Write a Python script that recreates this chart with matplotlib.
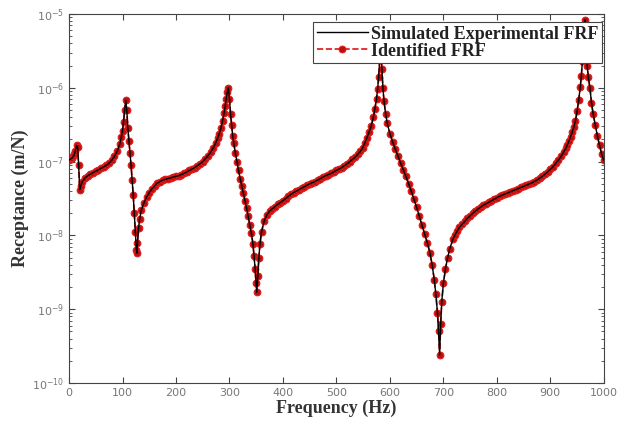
import numpy as np
import matplotlib
matplotlib.use('Agg')
import matplotlib.pyplot as plt

# frequency points (Hz) and log10 of receptance (m/N)
freq = [0, 2, 4, 6, 8, 10, 12, 14, 16, 18, 20, 22, 25,
        30, 35, 40, 45, 50, 55, 60, 65, 70, 75, 80, 85, 90, 95, 98,
        100, 102, 104, 106, 108, 110, 112, 114, 116, 118, 120, 122, 124, 126, 127,
        128, 130, 132, 135, 140, 145, 150, 155, 160, 165, 170, 175, 180, 185, 190, 195,
        200, 205, 210, 215, 220, 225, 230, 235, 240, 245, 250, 255, 260, 265, 270,
        274, 278, 281, 284, 287, 290, 292, 294, 296, 298,
        300, 302, 304, 306, 308, 311, 314, 317, 320, 323, 326, 329, 332, 335, 338,
        341, 344, 346, 348, 350, 351, 353, 355, 357, 360, 365, 370, 375, 380, 385, 390, 395,
        400, 405, 410, 415, 420, 425, 430, 435, 440, 445, 450, 455, 460, 465, 470, 475,
        480, 485, 490, 495, 500, 505, 510, 515, 520, 525, 530, 535, 540, 545,
        549, 553, 557, 561, 565, 569, 572, 575, 577, 579, 581, 583, 585, 587, 589, 592, 595,
        600, 605, 610, 615, 620, 625, 630, 635, 640, 645, 650, 655, 660, 665, 670,
        675, 679, 683, 686, 689, 691, 693, 695, 697, 700, 704, 708, 712, 718,
        722, 726, 730, 735, 740, 745, 750, 755, 760, 765, 770, 775, 780, 785, 790, 795,
        800, 805, 810, 815, 820, 825, 830, 835, 840, 845, 850, 855, 860, 865, 870, 875,
        880, 885, 890, 895, 900, 905, 910, 915, 920, 925, 929, 932, 935, 938, 941, 944,
        947, 950, 953, 956, 958, 960, 962, 964, 965, 967, 969, 971, 974, 977, 980, 984,
        988, 992, 996, 1000]

log_rec = [-6.98, -6.97, -6.96, -6.95, -6.93, -6.90, -6.85, -6.78, -6.80, -7.05, -7.38, -7.33, -7.27,
           -7.22, -7.19, -7.17, -7.15, -7.13, -7.11, -7.09, -7.07, -7.05, -7.02, -6.98, -6.93, -6.86, -6.76, -6.66,
           -6.58, -6.46, -6.30, -6.17, -6.30, -6.55, -6.72, -6.88, -7.05, -7.25, -7.45, -7.70, -7.95, -8.20, -8.24,
           -8.10, -7.90, -7.78, -7.66, -7.56, -7.48, -7.42, -7.37, -7.33, -7.29, -7.27, -7.25, -7.24, -7.23, -7.22, -7.21,
           -7.20, -7.19, -7.175, -7.16, -7.14, -7.12, -7.10, -7.08, -7.055, -7.03, -7.00, -6.96, -6.92, -6.87, -6.81,
           -6.75, -6.68, -6.62, -6.55, -6.45, -6.34, -6.25, -6.15, -6.05, -6.00,
           -6.15, -6.35, -6.50, -6.65, -6.75, -6.88, -7.00, -7.12, -7.23, -7.33, -7.43, -7.53, -7.63, -7.74, -7.86,
           -7.97, -8.12, -8.28, -8.45, -8.65, -8.77, -8.55, -8.30, -8.12, -7.95, -7.80, -7.72, -7.67, -7.64, -7.61, -7.58, -7.555,
           -7.53, -7.50, -7.47, -7.445, -7.42, -7.40, -7.38, -7.36, -7.34, -7.32, -7.30, -7.285, -7.27, -7.25, -7.23, -7.21,
           -7.19, -7.175, -7.16, -7.14, -7.12, -7.10, -7.08, -7.055, -7.03, -7.00, -6.97, -6.94, -6.90, -6.86,
           -6.81, -6.75, -6.68, -6.60, -6.52, -6.40, -6.28, -6.15, -6.02, -5.85, -5.62, -5.42, -5.75, -6.00, -6.18, -6.35, -6.48,
           -6.62, -6.73, -6.83, -6.92, -7.02, -7.11, -7.20, -7.30, -7.40, -7.51, -7.62, -7.74, -7.86, -7.98, -8.10,
           -8.24, -8.40, -8.60, -8.80, -9.05, -9.30, -9.62, -9.20, -8.90, -8.65, -8.45, -8.30, -8.18, -8.05,
           -7.99, -7.94, -7.89, -7.85, -7.81, -7.77, -7.735, -7.70, -7.67, -7.64, -7.615, -7.59, -7.57, -7.55, -7.53, -7.51,
           -7.49, -7.47, -7.455, -7.44, -7.425, -7.41, -7.395, -7.38, -7.365, -7.35, -7.335, -7.32, -7.305, -7.29, -7.27, -7.25,
           -7.225, -7.20, -7.17, -7.14, -7.105, -7.07, -7.025, -6.98, -6.93, -6.87, -6.82, -6.77, -6.72, -6.66, -6.60, -6.53,
           -6.45, -6.32, -6.17, -5.99, -5.84, -5.64, -5.40, -5.14, -5.08, -5.45, -5.70, -5.85, -6.00, -6.20, -6.35, -6.50,
           -6.65, -6.78, -6.90, -6.98]

rec = 10.0 ** np.array(log_rec)

fig = plt.figure(figsize=(6.18, 4.26), dpi=100)
ax = fig.add_axes([0.1117, 0.101, 0.8653, 0.866])

serif = ['Liberation Serif', 'DejaVu Serif']

ax.semilogy(freq, rec, color='black', lw=1.0, zorder=3, label='Simulated Experimental FRF')
ax.semilogy(freq, rec, color='#e01010', ls='--', lw=1.2, marker='o', ms=4.8,
            mfc='#b81010', mec='#e41a1a', mew=0.8, zorder=2, label='Identified FRF')

ax.set_xlim(0, 1000)
ax.set_ylim(1e-10, 1e-5)
ax.set_xticks(range(0, 1001, 100))
ax.tick_params(which='both', direction='in', top=True, right=True,
               colors='#444444', labelcolor='#777777', labelsize=8)
ax.tick_params(which='major', length=4)
ax.tick_params(which='minor', length=2)
for s in ax.spines.values():
    s.set_color('#444444')
    s.set_linewidth(0.8)

ax.set_xlabel('Frequency (Hz)', fontsize=13, fontweight='bold', family=serif,
              color='#333333', labelpad=1)
ax.set_ylabel('Receptance (m/N)', fontsize=13, fontweight='bold', family=serif,
              color='#333333', labelpad=2)

leg = ax.legend(loc='upper right', bbox_to_anchor=(0.997, 0.978), borderaxespad=0.0,
                fancybox=False, framealpha=1, edgecolor='#444444', handlelength=2.8,
                borderpad=0.2, labelspacing=0.0, handletextpad=0.2,
                prop={'family': serif, 'weight': 'bold', 'size': 13})
leg.get_frame().set_linewidth(0.8)
for t in leg.get_texts():
    t.set_color('#222222')

fig.savefig('out.png', dpi=100)
